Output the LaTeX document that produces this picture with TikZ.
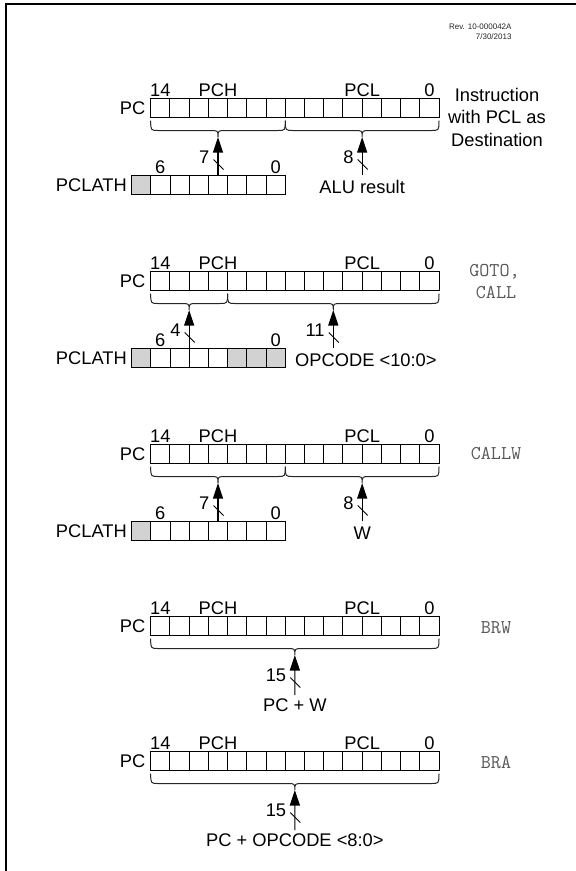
\documentclass[tikz,border=0pt]{standalone}
\usepackage{fontspec}
\setmainfont{Liberation Sans}
\usetikzlibrary{arrows.meta}
\tikzset{
  cell/.style={draw=black, line width=0.9pt, minimum width=19.22pt, minimum height=19.5pt, inner sep=0pt, outer sep=0pt},
  gcell/.style={cell, fill=gray!35},
  lbl/.style={inner sep=0pt, font=\fontsize{18.3}{22.2}\selectfont},
  mono/.style={inner sep=0pt, text=black!65, font=\ttfamily\fontsize{19.5}{22}\selectfont},
  bracestyle/.style={draw=black!85, line width=1pt},
  arr/.style={draw=black, line width=1.1pt, -{Triangle[length=15.5pt,width=10pt]}},
  tickmark/.style={draw=black, line width=0.9pt},
  frame/.style={draw=black, line width=2pt}
}
% PC register: #1 prefix, #2 top y
\newcommand{\pcrow}[2]{%
  \foreach \i in {0,...,14} {
    \node[cell] (#1pc\i) at ({439-19.22*(\i+0.5)}, {#2+9.75}) {};
  }
  \node[lbl, anchor=base] (#1n14) at (160.3, {#2-2}) {14};
  \node[lbl, anchor=base] (#1pch) at (218, {#2-2}) {PCH};
  \node[lbl, anchor=base] (#1pcl) at (362.15, {#2-2}) {PCL};
  \node[lbl, anchor=base] (#1n0) at (429.4, {#2-2}) {0};
  \node[lbl, anchor=base east] (#1pclbl) at (145.5, {#2+16.6}) {PC};
}
% PCLATH register cell: #1 prefix, #2 top y of PC, #3 bit, #4 style
\newcommand{\latcell}[4]{%
  \node[#4] (#1lat#3) at ({285.3-19.22*(#3+0.5)}, {#2+86.75}) {};
}
\newcommand{\latlabels}[2]{%
  \node[lbl, anchor=base east] (#1latlbl) at (127, {#2+93.5}) {PCLATH};
  \node[lbl, anchor=base] (#1lat6) at (160.3, {#2+75}) {6};
  \node[lbl, anchor=base] (#1lat0) at (275.7, {#2+75}) {0};
}
% brace: #1 tip name, #2 x1, #3 x2, #4 top y of PC
\newcommand{\pcbrace}[4]{%
  \pgfmathsetmacro\bxm{(#2+#3)/2}
  \pgfmathsetmacro\bya{#4+22.5}
  \pgfmathsetmacro\byb{#4+32.5}
  \pgfmathsetmacro\byc{#4+39}
  \draw[bracestyle] (#2,\bya) .. controls (#2,\byb) .. ({#2+8},\byb) -- ({\bxm-8},\byb) .. controls (\bxm,\byb) .. (\bxm,\byc) .. controls (\bxm,\byb) .. ({\bxm+8},\byb) -- ({#3-8},\byb) .. controls (#3,\byb) .. (#3,\bya);
  \coordinate (#1) at (\bxm,\byc);
}
% bus arrow: #1 name, #2 x, #3 top y of PC, #4 start offset, #5 width label
\newcommand{\bus}[5]{%
  \coordinate (#1src) at (#2, {#3+#4});
  \draw[arr] (#1src) -- (#1);
  \draw[tickmark] ({#2-4.5}, {#3+61.5}) -- ({#2+5.5}, {#3+71.5});
  \node[lbl, anchor=base east] (#1w) at ({#2-8.5}, {#3+65}) {#5};
}
\begin{document}
\begin{tikzpicture}[x=1pt, y=-1pt]
\useasboundingbox (0,0) rectangle (576,871);
\fill[white] (0,0) rectangle (576,871);
\draw[frame] (5.5,871) -- (5.5,3.7) -- (576,3.7);

\node[inner sep=0pt, anchor=base east, text=black!85, font=\fontsize{8}{10}\selectfont] (rev) at (511.7,29.6) {Rev. 10-000042A};
\node[inner sep=0pt, anchor=base east, text=black!85, font=\fontsize{8}{10}\selectfont] (date) at (511.7,39.6) {7/30/2013};

% ---------- Section 1 ----------
\pcrow{a}{98}
\foreach \b in {0,...,6} {\latcell{a}{98}{\b}{cell}}
\latcell{a}{98}{7}{gcell}
\latlabels{a}{98}
\pcbrace{atipL}{150.7}{285.3}{98}
\pcbrace{atipR}{285.3}{439}{98}
\bus{atipL}{218}{98}{77}{7}
\bus{atipR}{362.15}{98}{77}{8}
\node[lbl, anchor=base] (alu) at (362.15,193) {ALU result};
\node[lbl, anchor=base] (instr1) at (497,101.6) {Instruction};
\node[lbl, anchor=base] (instr2) at (497,123.8) {with PCL as};
\node[lbl, anchor=base] (instr3) at (497,146) {Destination};

% ---------- Section 2 ----------
\pcrow{b}{271}
\foreach \b in {3,...,6} {\latcell{b}{271}{\b}{cell}}
\foreach \b in {0,1,2,7} {\latcell{b}{271}{\b}{gcell}}
\latlabels{b}{271}
\pcbrace{btipL}{150.7}{227.6}{271}
\pcbrace{btipR}{227.6}{439}{271}
\bus{btipL}{189.15}{271}{77}{4}
\bus{btipR}{333.3}{271}{77}{11}
\node[lbl, anchor=base west] (opc) at (295,366) {OPCODE <10:0>};
\node[mono, anchor=base] (goto) at (494.5,276) {GOTO,};
\node[mono, anchor=base] (call) at (496,298.5) {CALL};

% ---------- Section 3 ----------
\pcrow{c}{444}
\foreach \b in {0,...,6} {\latcell{c}{444}{\b}{cell}}
\latcell{c}{444}{7}{gcell}
\latlabels{c}{444}
\pcbrace{ctipL}{150.7}{285.3}{444}
\pcbrace{ctipR}{285.3}{439}{444}
\bus{ctipL}{218}{444}{77}{7}
\bus{ctipR}{362.15}{444}{77}{8}
\node[lbl, anchor=base] (w) at (362.15,539) {W};
\node[mono, anchor=base] (callw) at (496,459) {CALLW};

% ---------- Section 4 ----------
\pcrow{d}{616}
\pcbrace{dtip}{150.7}{439}{616}
\bus{dtip}{294.85}{616}{79}{15}
\node[lbl, anchor=base] (pcw) at (294.85,711.6) {PC + W};
\node[mono, anchor=base] (brw) at (496,633.5) {BRW};

% ---------- Section 5 ----------
\pcrow{e}{751}
\pcbrace{etip}{150.7}{439}{751}
\bus{etip}{294.85}{751}{79}{15}
\node[lbl, anchor=base] (pco) at (294.85,846.5) {PC + OPCODE <8:0>};
\node[mono, anchor=base] (bra) at (496,768) {BRA};
\end{tikzpicture}
\end{document}
